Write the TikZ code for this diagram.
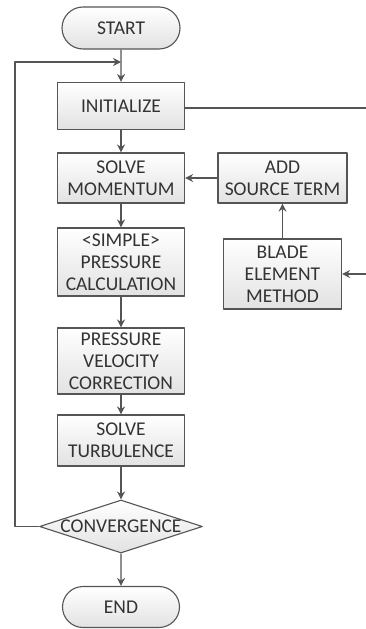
\documentclass[tikz,border=0pt]{standalone}
\usepackage{fontspec}
\setmainfont{Carlito}
\usetikzlibrary{shapes.geometric,shapes.misc,arrows.meta}
\definecolor{linegray}{HTML}{555555}
\definecolor{textgray}{HTML}{333333}
\definecolor{boxgray}{HTML}{E2E2E2}
\tikzset{
  procbox/.style={draw=linegray, line width=1.1pt, top color=white, bottom color=boxgray,
    text=textgray, align=center, inner sep=0pt, minimum width=127pt},
  termbox/.style={procbox, rounded rectangle},
  decbox/.style={procbox, diamond, aspect=3.08, minimum width=163pt, minimum height=53pt},
  flow/.style={->, draw=linegray, line width=1.1pt},
  plain/.style={draw=linegray, line width=1.1pt}
}
\begin{document}
\begin{tikzpicture}[x=1pt, y=-1pt, >={Stealth[length=8pt,width=8pt]},
    font=\fontsize{19.5pt}{22pt}\selectfont, line join=round]
  \useasboundingbox (0,0) rectangle (366,629);
  % main column
  \node[termbox, minimum width=118pt, minimum height=42pt] (start) at (121,28) {START};
  \node[procbox, minimum height=47pt] (init) at (121,106) {INITIALIZE};
  \node[procbox, minimum height=50pt] (mom) at (121,178) {SOLVE\\MOMENTUM};
  \node[procbox, minimum height=68pt] (press) at (121,262) {<SIMPLE>\\PRESSURE\\CALCULATION};
  \node[procbox, minimum height=66pt] (corr) at (121,361) {PRESSURE\\VELOCITY\\CORRECTION};
  \node[procbox, minimum height=51pt] (turb) at (121,440.5) {SOLVE\\TURBULENCE};
  \node[decbox] (conv) at (121,526.5) {\makebox[0pt]{CONVERGENCE}};
  \node[termbox, minimum width=117pt, minimum height=41pt] (end) at (121,607) {END};
  % source branch
  \node[procbox, minimum width=129pt, minimum height=50pt] (src) at (282.5,178) {ADD\\SOURCE TERM};
  \node[procbox, minimum width=118pt, minimum height=70pt] (blade) at (282.5,274) {BLADE\\ELEMENT\\METHOD};
  \coordinate (loopin) at (121,62);
  \coordinate (loopleft) at (15,62);
  \coordinate (initout) at (366,108);
  \coordinate (bladein) at (366,274);
  % connectors
  \draw[flow] (start) -- (init);
  \draw[flow] (init) -- (mom);
  \draw[flow] (mom) -- (press);
  \draw[flow] (press) -- (corr);
  \draw[flow] (corr) -- (turb);
  \draw[flow] (turb) -- (conv);
  \draw[flow] (conv) -- (end);
  \draw[flow] (conv.west) -| (loopleft) -- (loopin);
  \draw[plain] (init.east |- initout) -- (initout);
  \draw[flow] (bladein) -- (blade.east |- bladein);
  \draw[flow] (blade) -- (src);
  \draw[flow] (src) -- (mom);
\end{tikzpicture}
\end{document}
